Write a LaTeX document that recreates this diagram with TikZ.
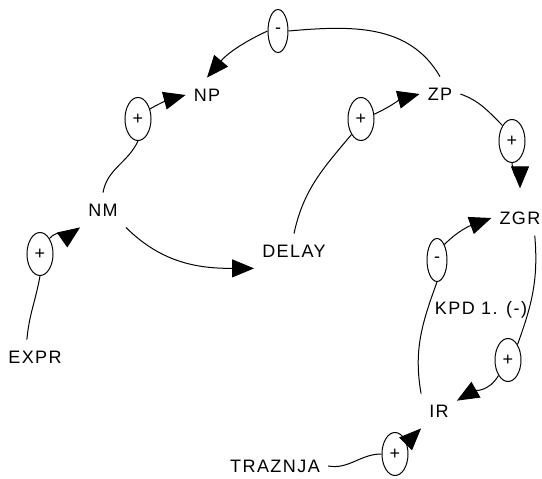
\documentclass[tikz,border=0pt]{standalone}
\usepackage{fontspec}
\setmainfont{Liberation Sans}[LetterSpace=8]
\usetikzlibrary{arrows.meta,shapes.geometric}

\tikzset{
  loopVar/.style={inner xsep=8pt, inner ysep=11pt, font=\fontsize{18}{18}\selectfont},
  plusSign/.style={draw, ellipse, line width=1pt, minimum width=26pt,
    minimum height=43pt, inner sep=0pt, font=\fontsize{18}{18}\selectfont},
  minusSign/.style={plusSign, minimum width=20pt},
  causeLine/.style={line width=1pt},
  causeArrow/.style={line width=1pt, -{Triangle[length=22pt,width=18pt]}}
}

\begin{document}
\begin{tikzpicture}[x=1pt,y=1pt]
    \useasboundingbox (0,0) rectangle (542,479);
    \node (exprVar) [loopVar] at (35,122) {EXPR}; \node (nmVar) [loopVar] at
    (103,269) {NM}; \node (npVar) [loopVar] at (207,384) {NP};
    \node (delayVar) [loopVar] at (294,228) {DELAY}; \node (zpVar) [loopVar]
    at (440,385) {ZP}; \node (zgrVar) [loopVar] at (520,261) {ZGR};
    \node (kpdLabel) [loopVar] at (481,169) {KPD 1. (-)};
    \node (irVar) [loopVar] at (439,68) {IR}; \node (traznjaVar) [loopVar]
    at (275,13) {TRAZNJA};

    \node (exprSign) [plusSign] at (40,225) {+}; \node (npSign) [plusSign]
    at (138,360) {+}; \node (zpSign) [plusSign] at (361,360) {+};
    \node (topSign) [minusSign] at (278,448) {-}; \node (zgrSign)
    [plusSign] at (512,338) {+}; \node (loopSign) [minusSign] at
    (437,219) {-}; \node (irSign) [plusSign] at (508,119) {+};
    \node (traznjaSign) [plusSign] at (395,25) {+};

    \draw[causeLine] (exprVar.115) to[out=85,in=-100] (exprSign.south);
    \draw[causeArrow] (exprSign.north east) to[out=50,in=-145] (nmVar.south west);

    \draw[causeLine] (nmVar.north) to[out=80,in=-115] (npSign.south);
    \draw[causeArrow] (npSign.40) to[out=30,in=195] (npVar.west);

    \draw[causeLine] (zpVar.north) to[out=120,in=5] (topSign.east);
    \draw[causeArrow] (topSign.west) to[out=205,in=50] (npVar.north);

    \draw[causeArrow] (nmVar.south east) to[out=-45,in=180] (delayVar.south west);

    \draw[causeLine] (delayVar.north) to[out=78,in=-130] (zpSign.south west);
    \draw[causeArrow] (zpSign.20) to[out=25,in=195] (zpVar.west);

    \draw[causeLine] (zpVar.east) to[out=-20,in=135] (zgrSign.north west);
    \draw[causeArrow, shorten >=12pt] (zgrSign.south) to[out=-85,in=90] (zgrVar.north);

    \draw[causeLine] (zgrVar.-50) to[out=-85,in=70] (irSign.north east);
    \draw[causeArrow] (irSign.south west) to[out=-120,in=30] (irVar.30);

    \draw[causeLine] (irVar.north west) to[out=100,in=-110] (loopSign.south);
    \draw[causeArrow] (loopSign.north east) to[out=45,in=200] (zgrVar.west);

    \draw[causeLine] (traznjaVar.east) to[out=-10,in=180] (traznjaSign.west);
    \draw[causeArrow] (traznjaSign.north east) to[out=45,in=-135] (irVar.south west);
\end{tikzpicture}
\end{document}
